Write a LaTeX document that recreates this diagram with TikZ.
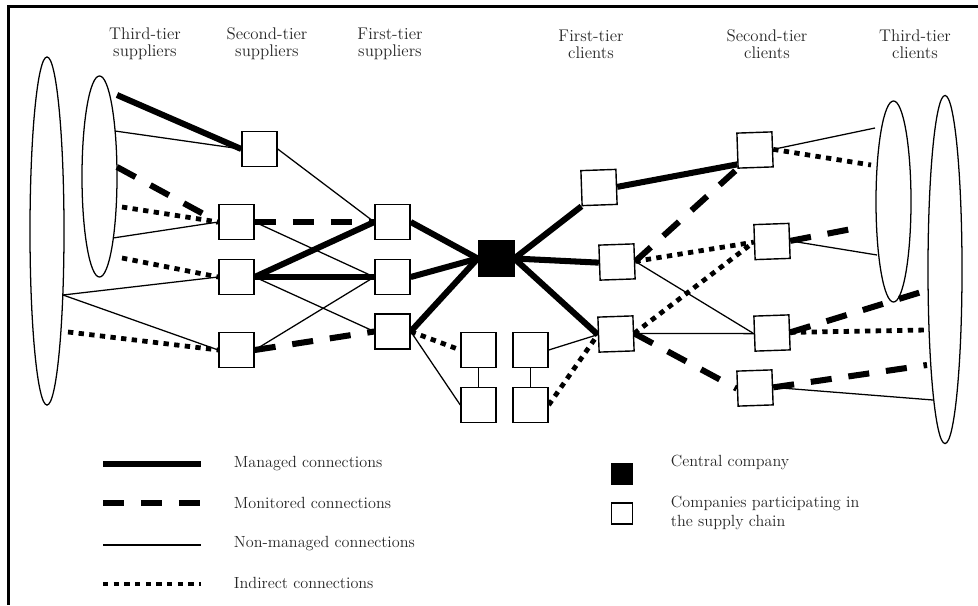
\documentclass[tikz,border=0pt]{standalone}
\usepackage{tikz}
\usetikzlibrary{shapes.geometric}
\pgfdeclarelayer{bg}
\pgfsetlayers{bg,main}

\begin{document}
\begin{tikzpicture}[x=0.025cm,y=-0.025cm,
	company/.style={draw,line width=1pt,fill=white,minimum size=0.875cm,inner sep=0pt},
	client/.style={company,rotate=2},
	central/.style={draw,fill=black,minimum size=0.9cm,inner sep=0pt},
	tier/.style={draw,line width=0.9pt,ellipse,inner sep=0pt},
	managed/.style={line width=4.3pt},
	monitored/.style={line width=4.3pt,dash pattern=on 15pt off 12pt},
	nonmanaged/.style={line width=0.9pt},
	indirect/.style={line width=3.4pt,dash pattern=on 3.8pt off 3.8pt},
	head/.style={align=center,text=black!85,font=\fontsize{12}{12}\selectfont},
	legend/.style={anchor=west,align=left,text=black!85,font=\fontsize{11.5}{14}\selectfont}]

	\useasboundingbox (0,0) rectangle (978,605);
	\draw[line width=2.1pt] (978,6.5) -- (8.3,6.5) -- (8.3,605);

	% tier headers
	\node[head] (hT3s) at (145,44) {Third-tier\\suppliers};
	\node[head] (hS2s) at (267,44) {Second-tier\\suppliers};
	\node[head] (hF1s) at (390,44) {First-tier\\suppliers};
	\node[head] (hF1c) at (591,44) {First-tier\\clients};
	\node[head] (hS2c) at (767,44) {Second-tier\\clients};
	\node[head] (hT3c) at (915,44) {Third-tier\\clients};

	% third-tier groups
	\node[tier,minimum width=0.85cm,minimum height=8.7cm] (T3sOut) at (47,231) {};
	\node[tier,minimum width=0.875cm,minimum height=5.025cm] (T3sIn) at (99.5,176.5) {};
	\node[tier,minimum width=0.875cm,minimum height=5.025cm] (T3cIn) at (893.5,201.5) {};
	\node[tier,minimum width=0.85cm,minimum height=8.7cm] (T3cOut) at (945,269.5) {};

	\coordinate (sA) at (117,95);
	\coordinate (sB) at (115,131);
	\coordinate (sC) at (117,167);
	\coordinate (sD) at (122,207);
	\coordinate (sE) at (113,238);
	\coordinate (sF) at (122,258);
	\coordinate (sG) at (63,295);
	\coordinate (sH) at (68,332);

	\coordinate (cA) at (875,128);
	\coordinate (cB) at (871,165);
	\coordinate (cC) at (862,227);
	\coordinate (cD) at (877,255);
	\coordinate (cE) at (928,290);
	\coordinate (cF) at (927,330);
	\coordinate (cG) at (927,365);
	\coordinate (cH) at (933,400);

	% companies
	\node[company] (S2a) at (259.5,149) {};
	\node[company] (S2b) at (236.5,222) {};
	\node[company] (S2c) at (236.5,277) {};
	\node[company] (S2d) at (236.5,350) {};

	\node[company] (F1a) at (392.5,222) {};
	\node[company] (F1b) at (392.5,277) {};
	\node[company] (F1c) at (392.5,331.5) {};

	\node[central] (Cen) at (496,258.5) {};

	\node[company] (L1) at (478.5,350) {};
	\node[company] (L2) at (478.5,405) {};
	\node[company] (R1) at (530.5,350) {};
	\node[company] (R2) at (530.5,405) {};

	\node[client] (C1a) at (599,187.5) {};
	\node[client] (C1b) at (617,262) {};
	\node[client] (C1c) at (616,334) {};

	\node[client] (C2a) at (755,150) {};
	\node[client] (C2b) at (772,241.5) {};
	\node[client] (C2c) at (772,333) {};
	\node[client] (C2d) at (755,388) {};

	\begin{pgfonlayer}{bg}
		% managed
		\draw[managed] (sA) -- (S2a.west);
		\draw[managed] (S2c.east) -- (F1a.west);
		\draw[managed] (S2c.east) -- (F1b.west);
		\draw[managed] (F1a.east) -- (Cen.west);
		\draw[managed] (F1b.east) -- (Cen.west);
		\draw[managed] (F1c.east) -- (Cen.west);
		\draw[managed] (Cen.east) -- (C1a.south west);
		\draw[managed] (Cen.east) -- (C1b.west);
		\draw[managed] (Cen.east) -- (C1c.west);
		\draw[managed] (C1a.east) -- (C2a.-143);

		% monitored
		\draw[monitored] (sC) -- (S2b.west);
		\draw[monitored] (S2b.east) -- (F1a.west);
		\draw[monitored] (S2d.east) -- (F1c.west);
		\draw[monitored] (C1b.east) -- (C2a.south west);
		\draw[monitored] (C1c.east) -- (C2d.west);
		\draw[monitored] (C2b.east) -- (cC);
		\draw[monitored] (C2c.east) -- (cE);
		\draw[monitored] (C2d.east) -- (cG);

		% non-managed
		\draw[nonmanaged] (sB) -- (S2a.west);
		\draw[nonmanaged] (sE) -- (S2b.west);
		\draw[nonmanaged] (sG) -- (S2c.west);
		\draw[nonmanaged] (sG) -- (S2d.west);
		\draw[nonmanaged] (S2a.east) -- (F1a.west);
		\draw[nonmanaged] (S2b.east) -- (F1b.west);
		\draw[nonmanaged] (S2c.east) -- (F1c.west);
		\draw[nonmanaged] (S2d.east) -- (F1b.west);
		\draw[nonmanaged] (F1c.east) -- (L2.west);
		\draw[nonmanaged] (L1) -- (L2);
		\draw[nonmanaged] (R1) -- (R2);
		\draw[nonmanaged] (R1.east) -- (C1c.west);
		\draw[nonmanaged] (C1b.east) -- (C2c.west);
		\draw[nonmanaged] (C1c.east) -- (C2c.west);
		\draw[nonmanaged] (C2a.east) -- (cA);
		\draw[nonmanaged] (C2b.east) -- (cD);
		\draw[nonmanaged] (C2d.east) -- (cH);

		% indirect
		\draw[indirect] (sD) -- (S2b.west);
		\draw[indirect] (sF) -- (S2c.west);
		\draw[indirect] (sH) -- (S2d.west);
		\draw[indirect] (F1c.east) -- (L1.west);
		\draw[indirect] (R2.east) -- (C1c.west);
		\draw[indirect] (C1b.east) -- (C2b.west);
		\draw[indirect] (C1c.east) -- (C2b.west);
		\draw[indirect] (C2a.east) -- (cB);
		\draw[indirect] (C2c.east) -- (cF);
	\end{pgfonlayer}

	% legend
	\draw[managed] (103,464) -- (201,464);
	\draw[monitored] (103,503) -- (201,503);
	\draw[nonmanaged] (103,545) -- (201,545);
	\draw[indirect] (103,584) -- (201,584);
	\node[legend] (lgManaged) at (229,464) {Managed connections};
	\node[legend] (lgMonitored) at (229,503) {Monitored connections};
	\node[legend] (lgNonmanaged) at (229,544) {Non-managed connections};
	\node[legend] (lgIndirect) at (229,583) {Indirect connections};

	\node[central,minimum size=0.525cm] (lgCen) at (622,473.5) {};
	\node[company,minimum size=0.525cm] (lgComp) at (622,513.5) {};
	\node[legend] (lgCenText) at (666,462) {Central company};
	\node[legend] (lgCompText) at (666,513) {Companies participating in\\the supply chain};
\end{tikzpicture}
\end{document}
